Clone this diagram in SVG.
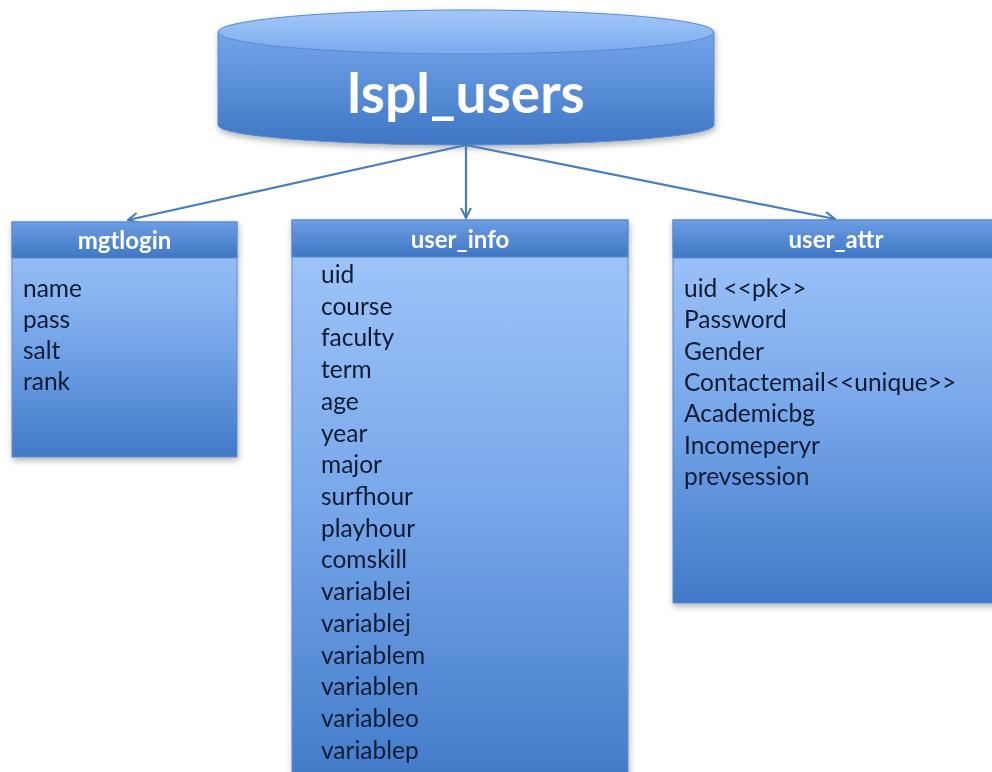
<svg xmlns="http://www.w3.org/2000/svg" width="992" height="772" viewBox="0 0 992 772">
  <defs>
    <linearGradient id="gBody" x1="0" y1="0" x2="0" y2="1">
      <stop offset="0" stop-color="#a3c7fa"/>
      <stop offset="0.5" stop-color="#77a7ea"/>
      <stop offset="1" stop-color="#4179c8"/>
    </linearGradient>
    <linearGradient id="gHead" x1="0" y1="0" x2="0" y2="1">
      <stop offset="0" stop-color="#6c9de4"/>
      <stop offset="1" stop-color="#3f77c3"/>
    </linearGradient>
    <linearGradient id="gCylBody" x1="0" y1="0" x2="0" y2="1">
      <stop offset="0" stop-color="#74a5ea"/>
      <stop offset="1" stop-color="#3e76c4"/>
    </linearGradient>
    <linearGradient id="gCylTop" x1="0" y1="0" x2="0" y2="1">
      <stop offset="0" stop-color="#a3c8f9"/>
      <stop offset="1" stop-color="#7aaaec"/>
    </linearGradient>
    <filter id="shadow" x="-10%" y="-10%" width="120%" height="120%">
      <feDropShadow dx="1" dy="3" stdDeviation="3" flood-color="#000" flood-opacity="0.3"/>
    </filter>
    <marker id="arrow" viewBox="0 0 12 12" refX="11" refY="6" markerWidth="12" markerHeight="12" markerUnits="userSpaceOnUse" orient="auto">
      <path d="M1,1 L11,6 L1,11" fill="none" stroke="#4a7ebb" stroke-width="2"/>
    </marker>
  </defs>
  <style>
    .box { stroke: #5a8ad0; stroke-width: 1; }
    .head { fill: url(#gHead); }
    .title { font-family: Lato, "Open Sans", sans-serif; font-weight: bold; font-size: 24px; fill: #ffffff; text-anchor: middle; }
    .item { font-family: Lato, "Open Sans", sans-serif; font-size: 24.5px; fill: #0f1a30; }
    .conn { stroke: #4a7ebb; stroke-width: 2.2; fill: none; marker-end: url(#arrow); }
  </style>

  <rect width="992" height="772" fill="#ffffff"/>

  <!-- database cylinder -->
  <g id="lspl_users" filter="url(#shadow)">
    <path d="M218,32 L218,125 A248,20 0 0 0 714,125 L714,32 Z" fill="url(#gCylBody)" stroke="#5a8ad0" stroke-width="1"/>
    <ellipse cx="466" cy="32" rx="248" ry="22" fill="url(#gCylTop)" stroke="#5a8ad0" stroke-width="1"/>
    <text x="466" y="113" font-family="Lato, 'Open Sans', sans-serif" font-weight="bold" font-size="55" fill="#ffffff" text-anchor="middle">lspl_users</text>
  </g>

  <!-- connectors -->
  <g id="connectors">
    <line class="conn" x1="466" y1="145" x2="128" y2="220"/>
    <line class="conn" x1="466" y1="145" x2="466" y2="218"/>
    <line class="conn" x1="466" y1="145" x2="835" y2="219"/>
  </g>

  <!-- mgtlogin table -->
  <g id="mgtlogin" filter="url(#shadow)">
    <rect class="box" x="12" y="222" width="225" height="235" fill="url(#gBody)"/>
    <rect class="box head" x="12" y="222" width="225" height="36"/>
    <text class="title" x="124.5" y="249">mgtlogin</text>
    <text class="item" x="23" y="297">name</text>
    <text class="item" x="23" y="328">pass</text>
    <text class="item" x="23" y="359">salt</text>
    <text class="item" x="23" y="390">rank</text>
  </g>

  <!-- user_info table -->
  <g id="user_info" filter="url(#shadow)">
    <rect class="box" x="292" y="220" width="336" height="570" fill="url(#gBody)"/>
    <rect class="box head" x="292" y="220" width="336" height="37"/>
    <text class="title" x="460" y="248">user_info</text>
    <text class="item" x="321" y="283">uid</text>
    <text class="item" x="321" y="315">course</text>
    <text class="item" x="321" y="346">faculty</text>
    <text class="item" x="321" y="378">term</text>
    <text class="item" x="321" y="410">age</text>
    <text class="item" x="321" y="442">year</text>
    <text class="item" x="321" y="473">major</text>
    <text class="item" x="321" y="505">surfhour</text>
    <text class="item" x="321" y="537">playhour</text>
    <text class="item" x="321" y="568">comskill</text>
    <text class="item" x="321" y="600">variablei</text>
    <text class="item" x="321" y="632">variablej</text>
    <text class="item" x="321" y="664">variablem</text>
    <text class="item" x="321" y="695">variablen</text>
    <text class="item" x="321" y="727">variableo</text>
    <text class="item" x="321" y="759">variablep</text>
  </g>

  <!-- user_attr table -->
  <g id="user_attr" filter="url(#shadow)">
    <rect class="box" x="673" y="220" width="330" height="383" fill="url(#gBody)"/>
    <rect class="box head" x="673" y="220" width="330" height="38"/>
    <text class="title" x="836" y="248">user_attr</text>
    <text class="item" x="684" y="297">uid &lt;&lt;pk&gt;&gt;</text>
    <text class="item" x="684" y="328">Password</text>
    <text class="item" x="684" y="360">Gender</text>
    <text class="item" x="684" y="391">Contactemail&lt;&lt;unique&gt;&gt;</text>
    <text class="item" x="684" y="422">Academicbg</text>
    <text class="item" x="684" y="454">Incomeperyr</text>
    <text class="item" x="684" y="485">prevsession</text>
  </g>
</svg>
